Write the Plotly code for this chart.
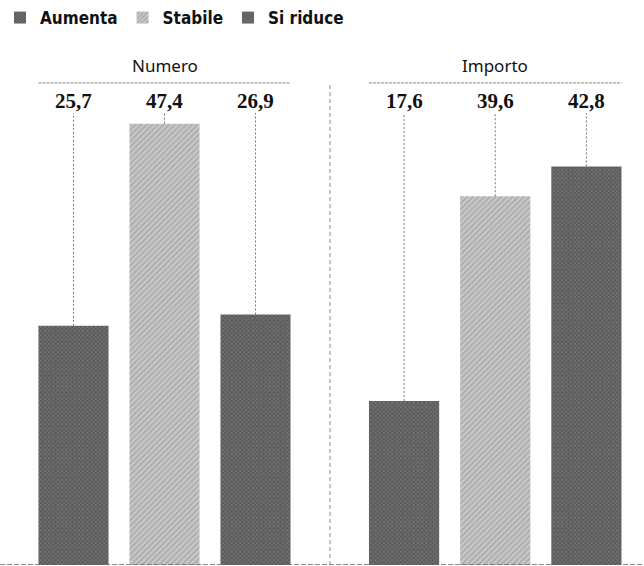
import plotly.graph_objects as go

# Survey answers, share of respondents (%)
series = ["Aumenta", "Stabile", "Si riduce"]
numero = [25.7, 47.4, 26.9]
importo = [17.6, 39.6, 42.8]
panels = ["Numero", "Importo"]

DARK = dict(shape="x", bgcolor="#5a5a5a", fgcolor="#9a9a9a", size=3, solidity=0.45)
LIGHT = dict(shape="/", bgcolor="#c8c8c8", fgcolor="#8a8a8a", size=4, solidity=0.4)
patterns = [DARK, LIGHT, DARK]

Y_MAX = 55.2
Y_RULE = 51.77     # dashed rule under panel titles
Y_TITLE = 53.6
Y_LABEL = 49.85
Y_LEADER = 48.55

fig = go.Figure()

for panel_idx, (panel, vals) in enumerate(zip(panels, [numero, importo])):
    xa = "x" if panel_idx == 0 else "x2"
    for i, (name, v) in enumerate(zip(series, vals)):
        fig.add_trace(go.Bar(
            x=[name], y=[v], name=name, xaxis=xa, yaxis="y",
            marker=dict(color=patterns[i]["bgcolor"], pattern=patterns[i],
                        line=dict(width=0)),
            legendgroup=name, showlegend=(panel_idx == 0),
            hoverinfo="skip",
        ))
        # leader line from the value label down to the bar top
        fig.add_trace(go.Scatter(
            x=[name, name], y=[v, Y_LEADER], mode="lines", xaxis=xa, yaxis="y",
            line=dict(color="#777777", width=1, dash="2px,2px"),
            showlegend=False, hoverinfo="skip",
        ))
        fig.add_annotation(
            x=name, y=Y_LABEL, xref=xa, yref="y", text=f"{v:.1f}".replace(".", ","),
            showarrow=False, yanchor="middle",
            font=dict(family="Liberation Serif", size=21, color="#111111", weight="bold"),
        )
    fig.add_annotation(
        x=1, y=Y_TITLE, xref=xa, yref="y", text=panel, showarrow=False,
        yanchor="middle",
        font=dict(family="Noto Sans", size=17, color="#111111"),
    )
    fig.add_shape(type="line", xref=xa, yref="y", x0=-0.385, x1=2.385,
                  y0=Y_RULE, y1=Y_RULE,
                  line=dict(color="#888888", width=1, dash="3px,1px"))

# vertical divider between panels
fig.add_shape(type="line", xref="paper", yref="y", x0=0.5124, x1=0.5124,
              y0=0, y1=Y_RULE, line=dict(color="#888888", width=1, dash="4px,3px"))
# baseline
fig.add_shape(type="line", xref="paper", yref="y", x0=0, x1=1, y0=0, y1=0,
              line=dict(color="#666666", width=1.5, dash="5px,2px"))

axis_common = dict(type="category", categoryorder="array", categoryarray=series,
                   range=[-0.5, 2.5], showticklabels=False, showgrid=False,
                   zeroline=False, showline=False, ticks="", fixedrange=True)

fig.update_layout(
    width=644, height=566,
    margin=dict(l=0, r=0, t=50, b=1),
    paper_bgcolor="white", plot_bgcolor="white",
    barmode="overlay", bargap=0.23,
    xaxis=dict(domain=[28/644, 301/644], anchor="y", **axis_common),
    xaxis2=dict(domain=[358.5/644, 632/644], anchor="y", **axis_common),
    yaxis=dict(range=[0, Y_MAX], visible=False, fixedrange=True),
    legend=dict(orientation="h", x=0.0, y=1.1, xanchor="left", yanchor="top",
                font=dict(family="DejaVu Sans Condensed", size=17, color="#111111",
                          weight="bold"),
                itemwidth=30, tracegroupgap=0, traceorder="normal"),
    showlegend=True,
)

fig.write_html("out.html")
